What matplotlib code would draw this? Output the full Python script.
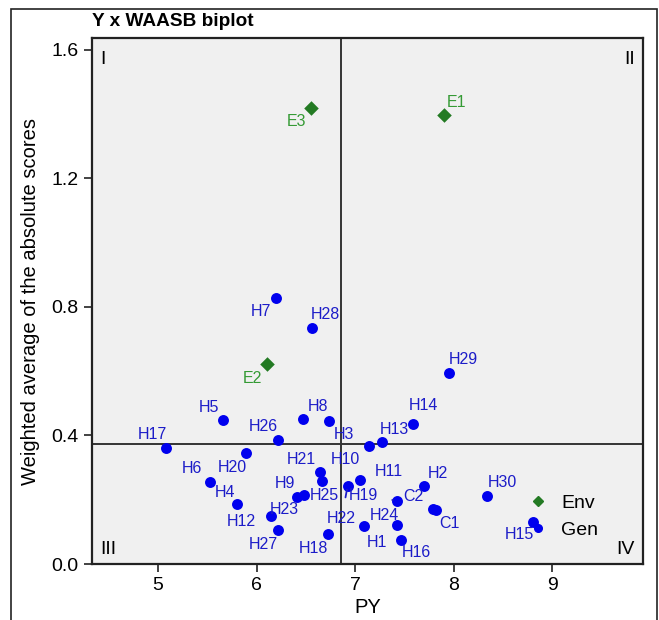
import matplotlib.pyplot as plt
from matplotlib.lines import Line2D
from matplotlib.patches import Rectangle

plt.rcParams['font.family'] = ['Liberation Sans', 'DejaVu Sans']

# environments
env_names = ['E1', 'E2', 'E3']
env_py = [7.898, 6.102, 6.552]
env_waasb = [1.396, 0.622, 1.420]

# genotypes
gen_names = ['H1', 'H2', 'H3', 'H4', 'H5', 'H6', 'H7', 'H8', 'H9', 'H10',
             'H11', 'H12', 'H13', 'H14', 'H15', 'H16', 'H17', 'H18', 'H19', 'H20',
             'H21', 'H22', 'H23', 'H24', 'H25', 'H26', 'H27', 'H28', 'H29', 'H30',
             'C1', 'C2']
gen_py = [7.089, 7.698, 6.731, 5.798, 5.662, 5.530, 6.197, 6.468, 6.407, 7.143,
          7.049, 6.146, 7.269, 7.586, 8.803, 7.467, 5.084, 6.724, 7.423, 5.892,
          6.643, 6.924, 6.481, 7.426, 6.666, 6.214, 6.214, 6.559, 7.955, 8.342,
          7.822, 7.786]
gen_waasb = [0.117, 0.242, 0.446, 0.187, 0.448, 0.256, 0.829, 0.450, 0.208, 0.367,
             0.263, 0.148, 0.380, 0.436, 0.132, 0.075, 0.360, 0.093, 0.197, 0.345,
             0.285, 0.244, 0.216, 0.121, 0.257, 0.386, 0.105, 0.736, 0.596, 0.212,
             0.169, 0.171]

mean_py = 6.86
mean_waasb = 0.373

# label offsets in pixels (dx, dy), dy up
env_off = {'E1': (13, 13), 'E2': (-14, -14), 'E3': (-14, -14)}
gen_off = {
    'H1': (13, -16), 'H2': (14, 13), 'H3': (15, -14), 'H4': (-12, 11), 'H5': (-14, 13),
    'H6': (-18, 13), 'H7': (-15, -14), 'H8': (15, 13), 'H9': (-12, 14), 'H10': (-24, -13),
    'H11': (29, 8), 'H12': (-30, -5), 'H13': (13, 12), 'H14': (11, 18), 'H15': (-14, -13),
    'H16': (15, -13), 'H17': (-14, 14), 'H18': (-14, -14), 'H19': (-33, 5), 'H20': (-14, -14),
    'H21': (-19, 13), 'H22': (-6, -33), 'H23': (-20, -15), 'H24': (-13, 10), 'H25': (2, -14),
    'H26': (-14, 13), 'H27': (-14, -14), 'H28': (14, 13), 'H29': (14, 13), 'H30': (15, 13),
    'C1': (13, -14), 'C2': (-19, 13),
}
with_line = {'H19', 'H22'}

blue = '#0000ee'
blue_txt = '#1c1cc8'
green = '#237a23'
green_txt = '#349a34'

fig = plt.figure(figsize=(6.59, 6.2), dpi=100)
ax = fig.add_axes([0.1396, 0.0903, 0.8366, 0.8479])
ax.set_facecolor('#f0f0f0')

ax.axvline(mean_py, color='#333333', lw=1.4, zorder=1)
ax.axhline(mean_waasb, color='#333333', lw=1.4, zorder=1)

ax.scatter(gen_py, gen_waasb, s=62, color=blue, marker='o', zorder=3, linewidths=0)
ax.scatter(env_py, env_waasb, s=55, color=green, marker='D', zorder=3, linewidths=0)

for name, x, y in zip(gen_names, gen_py, gen_waasb):
    dx, dy = gen_off[name]
    props = None
    if name in with_line:
        props = dict(arrowstyle='-', color=blue_txt, lw=1.3, shrinkA=8, shrinkB=3)
    ax.annotate(name, (x, y), xytext=(dx, dy), textcoords='offset pixels',
                ha='center', va='center', fontsize=11.5, color=blue_txt,
                arrowprops=props, zorder=4)

for name, x, y in zip(env_names, env_py, env_waasb):
    dx, dy = env_off[name]
    ax.annotate(name, (x, y), xytext=(dx, dy), textcoords='offset pixels',
                ha='center', va='center', fontsize=11.5, color=green_txt, zorder=4)

ax.set_xlim(4.331, 9.923)
ax.set_ylim(0, 1.636)
ax.set_xticks([5, 6, 7, 8, 9])
ax.set_yticks([0.0, 0.4, 0.8, 1.2, 1.6])
ax.set_yticklabels(['0.0', '0.4', '0.8', '1.2', '1.6'])
ax.tick_params(labelsize=14, length=6, width=1.2, color='#222222')
for s in ax.spines.values():
    s.set_linewidth(1.6)
    s.set_color('#222222')

# quadrant labels
ax.text(0.015, 0.975, 'I', transform=ax.transAxes, ha='left', va='top', fontsize=14)
ax.text(0.985, 0.975, 'II', transform=ax.transAxes, ha='right', va='top', fontsize=14)
ax.text(0.015, 0.012, 'III', transform=ax.transAxes, ha='left', va='bottom', fontsize=14)
ax.text(0.985, 0.012, 'IV', transform=ax.transAxes, ha='right', va='bottom', fontsize=14)

handles = [Line2D([], [], ls='none', marker='D', color=green, markersize=5),
           Line2D([], [], ls='none', marker='o', color=blue, markersize=5.5)]
ax.legend(handles, ['Env', 'Gen'], loc='lower right', bbox_to_anchor=(0.95, 0.015),
          frameon=False, fontsize=14, handletextpad=0.6, labelspacing=0.45,
          handlelength=1.2)

ax.set_xlabel('PY', fontsize=14.5, labelpad=3)
ax.set_ylabel('Weighted average of the absolute scores', fontsize=14.5, labelpad=8)

fig.text(92 / 659, 1 - 21 / 620, 'Y x WAASB biplot', fontsize=13.7, fontweight='bold',
         ha='left', va='center')

fig.patches.append(Rectangle((11 / 659, -0.05), 646 / 659, 1.05 - 8.5 / 620,
                             transform=fig.transFigure, fill=False, lw=1.2,
                             edgecolor='#222222'))

fig.savefig('out.png', dpi=100)
